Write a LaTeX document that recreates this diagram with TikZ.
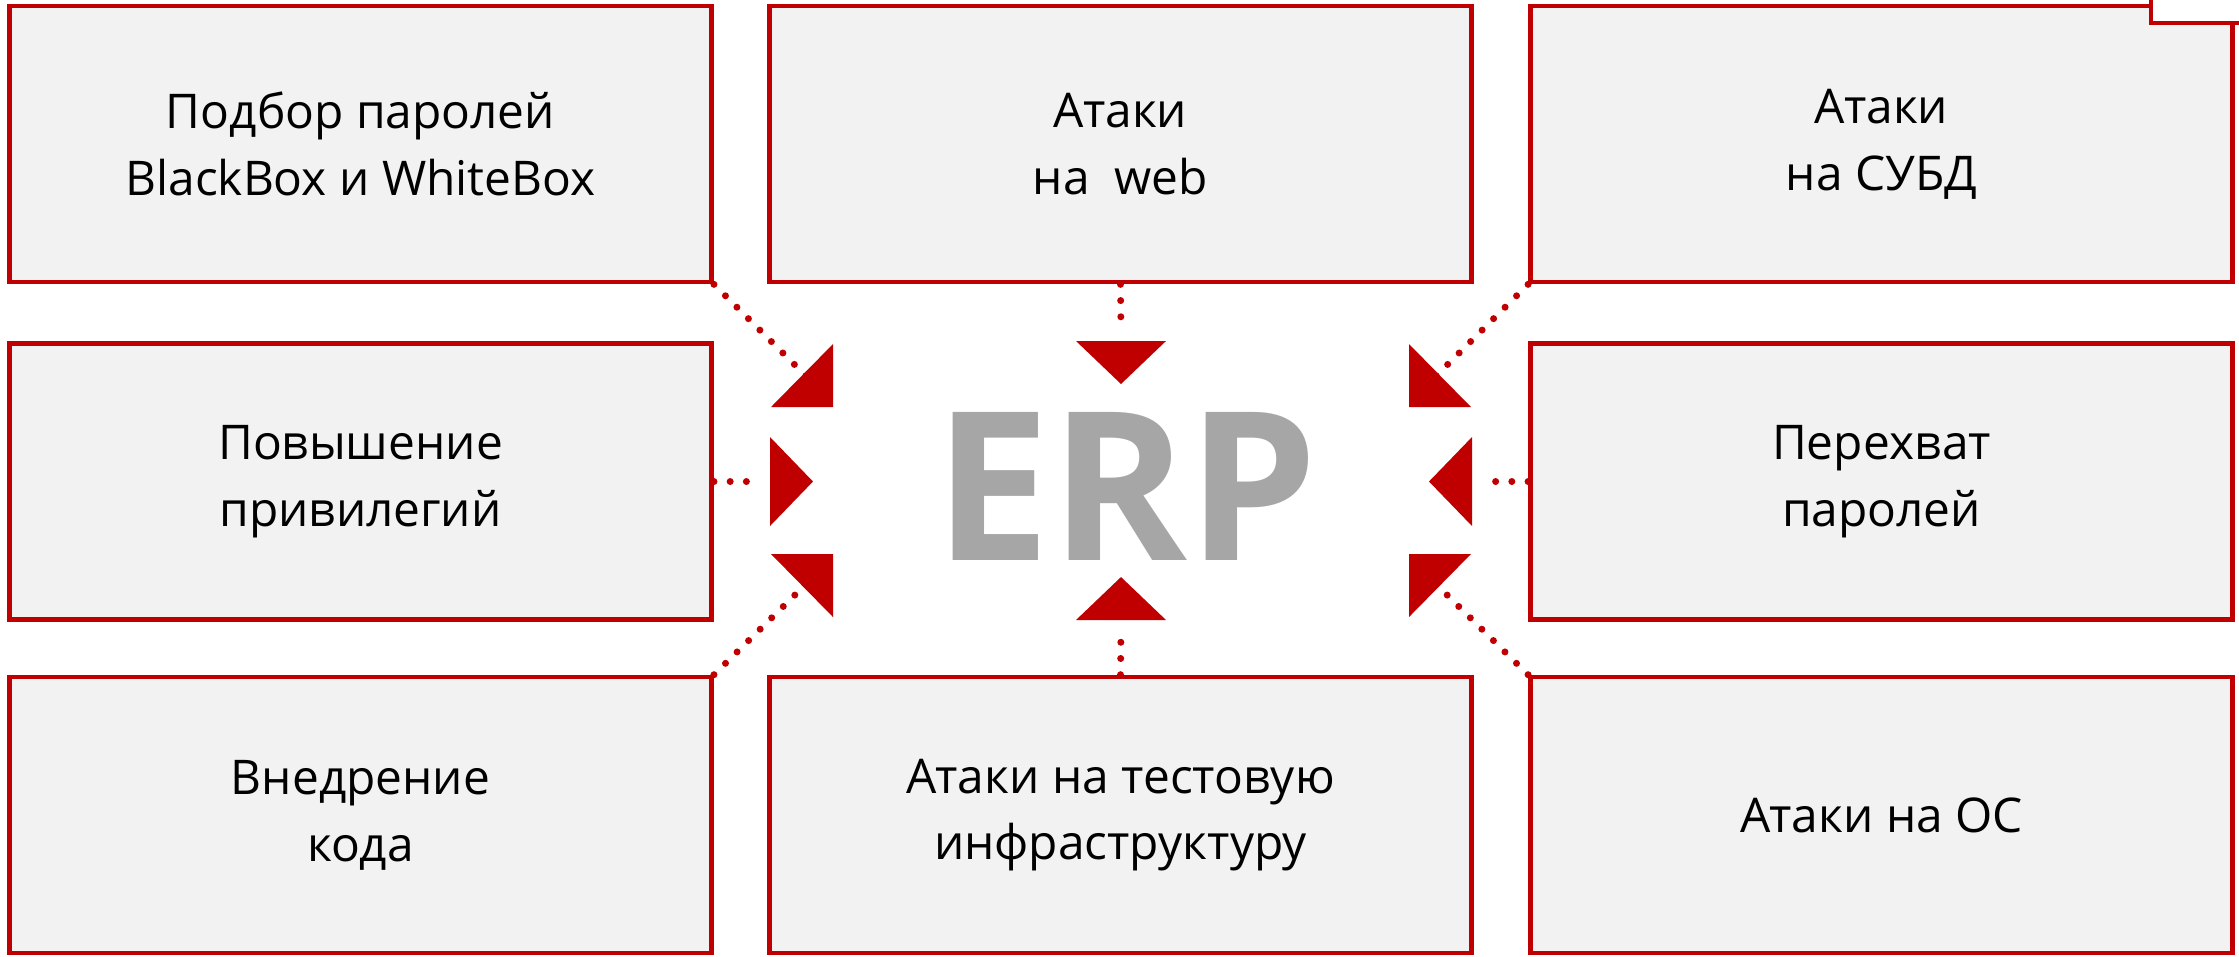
\documentclass[tikz,border=0pt]{standalone}
\usepackage{fontspec}
\setmainfont{Open Sans}
\definecolor{boxred}{HTML}{C00000}
\definecolor{boxfill}{HTML}{F2F2F2}
\definecolor{erpgray}{HTML}{A6A6A6}
\begin{document}
\begin{tikzpicture}[x=0.01cm,y=-0.01cm,
  tbox/.style={draw=boxred, fill=boxfill, line width=0.045cm,
    minimum width=7.02cm, minimum height=2.76cm, inner sep=0pt,
    align=center, font=\fontsize{13.6}{19}\selectfont},
  dotline/.style={draw=boxred, line width=0.07cm, line cap=round,
    dash pattern=on 0pt off 0.162cm},
  tri/.style={fill=boxred}]
\useasboundingbox (0,0) rectangle (2239,956);
\clip (0,0) rectangle (2239,956);
% boxes
\node[tbox] (b1) at (360.5,144) {Подбор паролей\\BlackBox и WhiteBox};
\node[tbox] (b2) at (1120.5,144) {Атаки\\на\ \ web};
\node[tbox] (b3) at (1881.5,144) {Атаки\\на СУБД};
\node[tbox] (b4) at (360.5,481.5) {Повышение\\привилегий};
\node[tbox] (b6) at (1881.5,481.5) {Перехват\\паролей};
\node[tbox] (b7) at (360.5,815) {Внедрение\\кода};
\node[tbox] (b8) at (1120.5,815) {Атаки на тестовую\\инфраструктуру};
\node[tbox] (b9) at (1881.5,815) {Атаки на ОС};
% notch at top right
\draw[draw=boxred, fill=white, line width=0.045cm] (2151,-30) rectangle (2280,23);
% centre text
\node[anchor=base, inner sep=0pt, text=erpgray,
  font=\fontsize{59}{59}\selectfont\bfseries] (erp) at (1126,560) {ERP};
% arrow heads
\fill[tri] (833,344) -- (833,407) -- (771,407) -- cycle;
\fill[tri] (1076,341) -- (1166,341) -- (1121,384) -- cycle;
\fill[tri] (1409,344) -- (1409,407) -- (1471,407) -- cycle;
\fill[tri] (770,437) -- (770,526) -- (813,481.5) -- cycle;
\fill[tri] (1472,437) -- (1472,526) -- (1429,481.5) -- cycle;
\fill[tri] (771,554) -- (833,554) -- (833,617) -- cycle;
\fill[tri] (1076,620) -- (1166,620) -- (1121,577) -- cycle;
\fill[tri] (1471,554) -- (1409,554) -- (1409,617) -- cycle;
% connector ends
\coordinate (e1) at (806,376);
\coordinate (e2) at (1121,332);
\coordinate (e3) at (1436,376);
\coordinate (e4) at (762,481.5);
\coordinate (e6) at (1480,481.5);
\coordinate (e7) at (804,586);
\coordinate (e8) at (1121,628);
\coordinate (e9) at (1438,586);
% dotted connectors
\draw[dotline] (b1.south east) -- (e1);
\draw[dotline] (b2.south) -- (e2);
\draw[dotline] (b3.south west) -- (e3);
\draw[dotline] (b4.east) -- (e4);
\draw[dotline] (b6.west) -- (e6);
\draw[dotline] (b7.north east) -- (e7);
\draw[dotline] (b8.north) -- (e8);
\draw[dotline] (b9.north west) -- (e9);
\end{tikzpicture}
\end{document}
